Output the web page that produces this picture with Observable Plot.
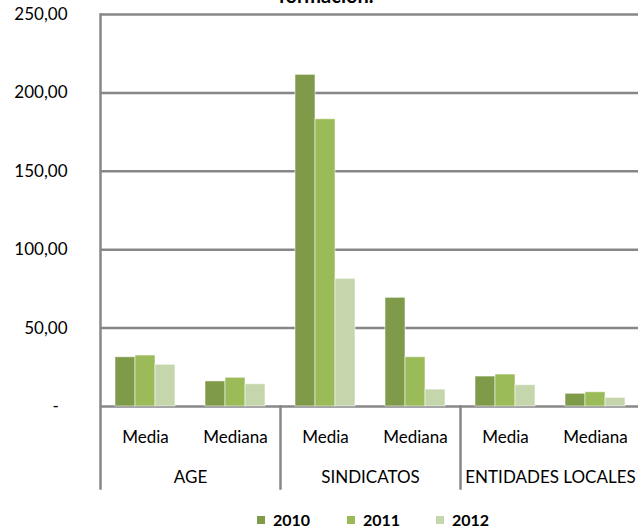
<!DOCTYPE html>
<html>
<head>
<meta charset="utf-8">
<script src="https://cdn.jsdelivr.net/npm/d3@7"></script>
<script src="https://cdn.jsdelivr.net/npm/@observablehq/plot@0.6"></script>
<style>
  body { margin: 0; background: #fff; }
  #wrap { position: relative; width: 638px; height: 531px; overflow: hidden; font-family: Lato, "Open Sans", sans-serif; }
  #wrap svg { position: absolute; left: 0; top: 0; overflow: visible; }
  .leg { position: absolute; top: 510px; display: flex; align-items: center; font-weight: bold; font-size: 16px; color: #000; }
  .leg span.sw { display: inline-block; width: 8px; height: 8px; margin-right: 8px; }
</style>
</head>
<body>
<div id="wrap"></div>
<script>
// ---- data ----
const groups = ["AGE", "SINDICATOS", "ENTIDADES LOCALES"];
const stats = ["Media", "Mediana"];
const years = ["2010", "2011", "2012"];
// order: AGE Media, AGE Mediana, SINDICATOS Media, SINDICATOS Mediana, EELL Media, EELL Mediana
const values2010 = [31.4, 16.0, 211.5, 69.3, 19.1, 8.1];
const values2011 = [32.5, 18.3, 183.2, 31.4, 20.4, 9.1];
const values2012 = [26.6, 14.2, 81.4, 10.8, 13.6, 5.5];
const yTicks = [0, 50, 100, 150, 200, 250];
const colors = ["#7f9a48", "#9bbb59", "#c6d6ac"];
const titleText = "formación.";

// ---- build table ----
const cats = [];
groups.forEach(g => stats.forEach(s => cats.push(g + "|" + s)));
const series = [values2010, values2011, values2012];
const data = [];
cats.forEach((c, i) => years.forEach((y, k) => data.push({cat: c, year: y, value: series[k][i]})));

const font = "Lato, 'Open Sans', sans-serif";
const grid = "#878787";
const fs = 17;
const fmt = d => d === 0 ? "-\u00a0\u00a0" : d.toFixed(2).replace(".", ",");

const chart = Plot.plot({
  width: 638,
  height: 500,
  marginLeft: 98,
  marginRight: -3,
  marginTop: 14,
  marginBottom: 94,
  style: {fontFamily: font, fontSize: fs + "px", color: "#000", background: "transparent"},
  fx: {domain: cats, padding: 0},
  x: {domain: years, paddingInner: 0, paddingOuter: 0.707, axis: null},
  y: {domain: [0, 250]},
  color: {domain: years, range: colors},
  marks: [
    Plot.ruleY(yTicks, {stroke: grid, strokeWidth: 2.5}),
    Plot.barY(data, {fx: "cat", x: "year", y: "value", fill: "year", stroke: "#ffffff", strokeOpacity: 0.55, strokeWidth: 1}),
    Plot.frame({anchor: "left", fx: () => cats[0], stroke: grid, strokeWidth: 2.5, insetBottom: -82}),
    Plot.frame({anchor: "left", fx: () => cats[2], stroke: grid, strokeWidth: 2.5, insetTop: 392, insetBottom: -82}),
    Plot.frame({anchor: "left", fx: () => cats[4], stroke: grid, strokeWidth: 2.5, insetTop: 392, insetBottom: -82}),
    Plot.axisY({ticks: yTicks, tickSize: 0, tickPadding: 33, tickFormat: fmt, fontSize: fs, fill: "#000", label: null}),
    Plot.axisFx({anchor: "bottom", tickSize: 0, tickPadding: 24, tickFormat: d => d.split("|")[1], fontSize: fs, fill: "#000", label: null}),
    Plot.text(groups, {fx: g => g + "|Media", frameAnchor: "bottom-right", textAnchor: "middle", text: d => d, dy: 76, fontSize: fs, fill: "#000"})
  ]
});

d3.select(chart).append("text")
  .attr("x", 326).attr("y", 3)
  .attr("text-anchor", "middle")
  .attr("font-weight", "bold")
  .attr("font-size", 20)
  .attr("font-family", font)
  .text(titleText);

const wrap = document.getElementById("wrap");
wrap.appendChild(chart);

const legLeft = [257, 347, 436];
years.forEach((y, k) => {
  const div = document.createElement("div");
  div.className = "leg";
  div.style.left = legLeft[k] + "px";
  div.innerHTML = `<span class="sw" style="background:${colors[k]}"></span>${y}`;
  wrap.appendChild(div);
});
</script>
</body>
</html>
